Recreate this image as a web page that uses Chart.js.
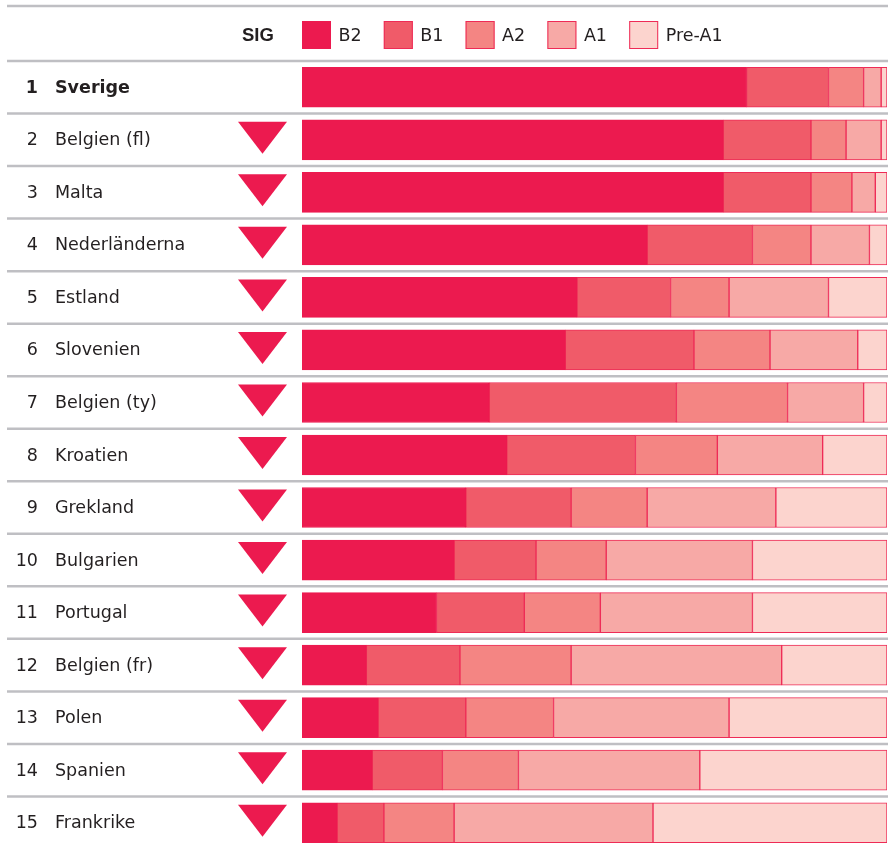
<!DOCTYPE html>
<html>
<head>
<meta charset="utf-8">
<script src="https://cdn.jsdelivr.net/npm/chart.js@4"></script>
<style>
  html, body { margin: 0; padding: 0; background: #fff; overflow: hidden; }
  #wrap { position: relative; width: 888px; height: 849px; }
</style>
</head>
<body>
<div id="wrap"><canvas id="barChart"></canvas></div>
<script>
// rows (rank + country), in chart order
const ranks = ['1', '2', '3', '4', '5', '6', '7', '8', '9', '10', '11', '12', '13', '14', '15'];
const countries = ['Sverige', 'Belgien (fl)', 'Malta', 'Nederländerna', 'Estland', 'Slovenien',
    'Belgien (ty)', 'Kroatien', 'Grekland', 'Bulgarien', 'Portugal', 'Belgien (fr)', 'Polen',
    'Spanien', 'Frankrike'];

// significantly lower than Sverige (down arrow)
const sigLower = [false, true, true, true, true, true, true, true, true, true, true, true, true, true, true];

// share of pupils per level, percent
const levelLabels = ['B2', 'B1', 'A2', 'A1', 'Pre-A1'];
const b2    = [76, 72, 72, 59, 47, 45, 32, 35, 28, 26, 23, 11, 13, 12, 6];
const b1    = [14, 15, 15, 18, 16, 22, 32, 22, 18, 14, 15, 16, 15, 12, 8];
const a2    = [6, 6, 7, 10, 10, 13, 19, 14, 13, 12, 13, 19, 15, 13, 12];
const a1    = [3, 6, 4, 10, 17, 15, 13, 18, 22, 25, 26, 36, 30, 31, 34];
const preA1 = [1, 1, 2, 3, 10, 5, 4, 11, 19, 23, 23, 18, 27, 32, 40];

const fills = ['#ec1a4f', '#f05b69', '#f48583', '#f7a9a6', '#fcd4ce'];
const edge = '#ee2b56';
const textColor = '#231f20';
const fontFamily = '"DejaVu Sans", "Liberation Sans", Arial, sans-serif';

const series = [b2, b1, a2, a1, preA1];

const tableDecor = {
    id: 'tableDecor',
    beforeDatasetsDraw(chart) {
        const ctx = chart.ctx;
        const yScale = chart.scales.y;
        const area = chart.chartArea;
        const step = (area.bottom - area.top) / countries.length;

        ctx.save();
        // separator lines
        ctx.strokeStyle = '#bfbfc3';
        ctx.lineWidth = 2.5;
        const hline = function(y) {
            ctx.beginPath();
            ctx.moveTo(7, y);
            ctx.lineTo(chart.width, y);
            ctx.stroke();
        };
        hline(6);
        for (let i = 0; i <= countries.length; i++) {
            hline(yScale.getPixelForValue(i) - step / 2);
        }

        // row labels and SIG markers
        ctx.fillStyle = textColor;
        ctx.textBaseline = 'middle';
        for (let i = 0; i < countries.length; i++) {
            const cy = yScale.getPixelForValue(i) + 1;
            const weight = i === 0 ? 'bold ' : '';
            ctx.font = weight + '17.5px ' + fontFamily;
            ctx.textAlign = 'right';
            ctx.fillText(ranks[i], 38, cy);
            ctx.textAlign = 'left';
            ctx.fillText(countries[i], 55, cy);

            if (sigLower[i]) {
                const ty = cy - 1;
                ctx.fillStyle = fills[0];
                ctx.beginPath();
                ctx.moveTo(238, ty - 18);
                ctx.lineTo(287, ty - 18);
                ctx.lineTo(262.5, ty + 14);
                ctx.closePath();
                ctx.fill();
                ctx.fillStyle = textColor;
            }
        }

        // header: SIG + legend
        ctx.font = 'bold 18.5px "Liberation Sans", Arial, sans-serif';
        ctx.textAlign = 'left';
        ctx.fillText('SIG', 242, 36);

        ctx.font = '17.5px ' + fontFamily;
        chart.data.datasets.forEach(function(ds, i) {
            const x = area.left + i * 81.8;
            ctx.fillStyle = ds.backgroundColor;
            ctx.fillRect(x, 21, 29, 28);
            if (i > 0) {
                ctx.strokeStyle = edge;
                ctx.lineWidth = 1;
                ctx.strokeRect(x + 0.5, 21.5, 28, 27);
            }
            ctx.fillStyle = textColor;
            ctx.fillText(ds.label, x + 36.5, 36);
        });
        ctx.restore();
    }
};

const ctx = document.getElementById('barChart').getContext('2d');
new Chart(ctx, {
    type: 'bar',
    data: {
        labels: countries,
        datasets: levelLabels.map(function(label, i) {
            return {
                label: label,
                data: series[i],
                backgroundColor: fills[i],
                borderColor: i === 0 ? fills[0] : edge,
                borderWidth: 1,
                borderSkipped: false,
                barThickness: 40
            };
        })
    },
    options: {
        indexAxis: 'y',
        responsive: true,
        maintainAspectRatio: false,
        animation: false,
        layout: {
            padding: { left: 302, right: 1, top: 61, bottom: 0 }
        },
        scales: {
            x: { stacked: true, min: 0, max: 100, display: false },
            y: { stacked: true, display: false }
        },
        plugins: {
            legend: { display: false },
            tooltip: { enabled: false }
        }
    },
    plugins: [tableDecor]
});
</script>
</body>
</html>
